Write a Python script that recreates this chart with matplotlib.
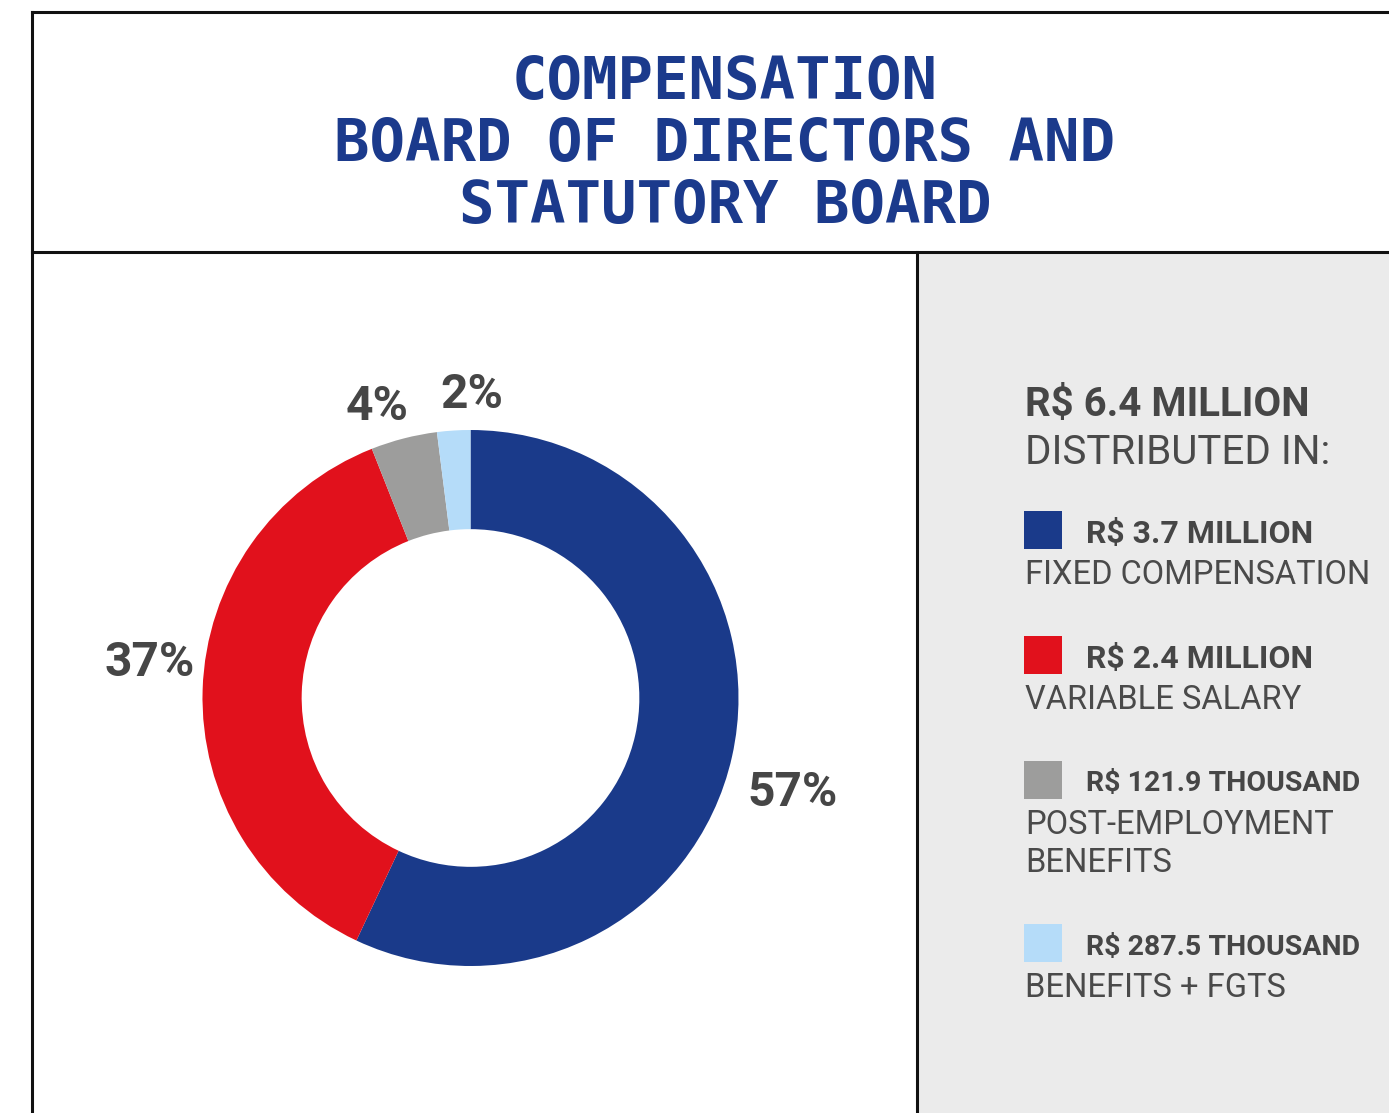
import matplotlib
matplotlib.use('Agg')
import matplotlib.pyplot as plt
from matplotlib.patches import Rectangle

# data
shares = [57, 37, 4, 2]
colors = ['#1a3a8a', '#e1111c', '#9d9d9c', '#b5dcf9']
amounts = ['R$ 3.7 MILLION', 'R$ 2.4 MILLION', 'R$ 121.9 THOUSAND', 'R$ 287.5 THOUSAND']
descriptions = ['FIXED COMPENSATION', 'VARIABLE SALARY', 'POST-EMPLOYMENT\nBENEFITS', 'BENEFITS + FGTS']
total_label = 'R$ 6.4 MILLION'
title_lines = ['COMPENSATION', 'BOARD OF DIRECTORS AND', 'STATUTORY BOARD']

W, H = 1389, 1113
dark = '#464646'
fig = plt.figure(figsize=(W / 100, H / 100), dpi=100)
fig.patch.set_facecolor('white')

# pixel-space background axes
bg = fig.add_axes([0, 0, 1, 1])
bg.set_xlim(0, W)
bg.set_ylim(H, 0)
bg.axis('off')

# gray legend panel and frame lines
bg.add_patch(Rectangle((917, 252), W - 917, H - 252, facecolor='#ebebeb', edgecolor='none'))
bg.plot([32, W], [12, 12], color='#111111', lw=2.2)
bg.plot([32, W], [252, 252], color='#111111', lw=2.2)
bg.plot([32, 32], [12, H], color='#111111', lw=2.2)
bg.plot([917, 917], [252, H], color='#111111', lw=2.2)

# title
for i, line in enumerate(title_lines):
    bg.text(725, 83 + i * 62, line, ha='center', va='center', fontsize=42.5,
            family='DejaVu Sans Mono', fontweight='bold', color='#1b3a8c')

# donut
cx, cy, r = 470.5, 698, 268
pie_ax = fig.add_axes([(cx - r) / W, (H - cy - r) / H, 2 * r / W, 2 * r / H])
pie_ax.pie(shares, colors=colors, startangle=90, counterclock=False,
           wedgeprops=dict(width=0.37, edgecolor='none'))
pie_ax.set_xlim(-1, 1)
pie_ax.set_ylim(-1, 1)
pie_ax.set_aspect('equal')

# percentage labels
label_pos = [(793, 793), (150, 663), (377, 407), (472, 395)]
for s, (x, y) in zip(shares, label_pos):
    bg.text(x, y, f'{s}%', ha='center', va='center', fontsize=34.5,
            family='Roboto', fontweight='bold', color=dark)

# legend panel text
bg.text(1025, 405, total_label, ha='left', va='center', fontsize=29,
        family='Roboto', fontweight='bold', color=dark)
bg.text(1025, 453, 'DISTRIBUTED IN:', ha='left', va='center', fontsize=29,
        family='Roboto', fontweight='normal', color='#4a4a4a')

item_y = [530, 655, 780, 943]
amount_size = [23, 23, 20.5, 20.5]
for amt, desc, c, y, fs in zip(amounts, descriptions, colors, item_y, amount_size):
    bg.add_patch(Rectangle((1024, y - 19), 38, 38, facecolor=c, edgecolor='none'))
    bg.text(1086, y + 4, amt, ha='left', va='center', fontsize=fs,
            family='Roboto', fontweight='bold', color=dark)
    bg.text(1025, y + 29, desc, ha='left', va='top', fontsize=23.5,
            family='Roboto', fontweight='normal', color='#4a4a4a', linespacing=1.25)

fig.savefig('out.png', dpi=100)
